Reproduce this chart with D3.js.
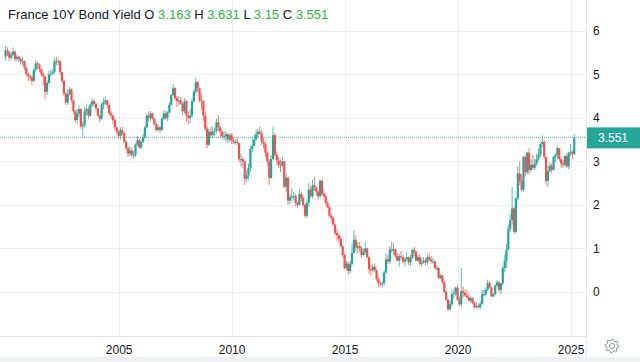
<!DOCTYPE html>
<html lang="en">
<head>
    <meta charset="UTF-8">
    <title>France 10Y Bond Yield</title>
    <script src="https://cdn.jsdelivr.net/npm/d3@7/dist/d3.min.js"></script>
    <style>
        body { margin: 0; background: #fff; }
        text { font-family: "Liberation Sans", Arial, sans-serif; }
    </style>
</head>
<body>
<svg id="main" width="640" height="362"></svg>
<script>
    // monthly candles, Jan 2000 .. Mar 2025 (open = previous month's close)
    const firstMonth = new Date(2000, 0, 1);
    const firstOpen = 5.40;

    const closes = [
        5.55, 5.50, 5.38, 5.45, 5.52, 5.35, 5.40, 5.35, 5.30, 5.30, 5.15, 5.00,
        4.95, 4.92, 4.85, 5.10, 5.25, 5.22, 5.12, 5.00, 4.95, 4.60, 4.80, 5.00,
        5.02, 5.05, 5.30, 5.28, 5.30, 5.05, 4.85, 4.55, 4.35, 4.55, 4.65, 4.40,
        4.15, 3.95, 4.10, 4.20, 3.80, 3.82, 4.15, 4.20, 4.05, 4.30, 4.38, 4.32,
        4.22, 4.05, 3.98, 4.30, 4.35, 4.40, 4.30, 4.10, 4.05, 3.95, 3.78, 3.68,
        3.58, 3.72, 3.65, 3.45, 3.30, 3.18, 3.25, 3.15, 3.15, 3.38, 3.48, 3.32,
        3.45, 3.55, 3.78, 4.05, 4.00, 4.10, 3.98, 3.85, 3.72, 3.78, 3.72, 3.98,
        4.10, 4.00, 4.12, 4.30, 4.52, 4.68, 4.45, 4.38, 4.40, 4.32, 4.15, 4.38,
        4.05, 4.00, 4.05, 4.38, 4.60, 4.82, 4.68, 4.40, 4.38, 4.05, 3.75, 3.38,
        3.68, 3.60, 3.68, 3.70, 3.90, 3.78, 3.68, 3.58, 3.58, 3.62, 3.50, 3.60,
        3.48, 3.45, 3.45, 3.42, 3.05, 3.05, 3.00, 2.60, 2.68, 2.85, 3.28, 3.35,
        3.50, 3.62, 3.68, 3.65, 3.45, 3.40, 3.20, 3.00, 2.62, 3.05, 3.60, 3.15,
        3.02, 2.92, 2.90, 3.00, 2.42, 2.62, 2.10, 2.18, 2.20, 2.20, 2.05, 2.00,
        2.25, 2.15, 2.00, 1.75, 2.05, 2.35, 2.20, 2.45, 2.40, 2.30, 2.20, 2.55,
        2.25, 2.20, 2.05, 1.95, 1.75, 1.70, 1.55, 1.35, 1.30, 1.22, 1.05, 0.85,
        0.55, 0.65, 0.48, 0.65, 0.90, 1.20, 1.02, 1.05, 1.00, 0.85, 0.92, 1.00,
        0.80, 0.52, 0.50, 0.58, 0.50, 0.30, 0.20, 0.18, 0.20, 0.45, 0.75, 0.70,
        0.98, 0.95, 0.98, 0.82, 0.72, 0.82, 0.80, 0.70, 0.75, 0.80, 0.68, 0.78,
        0.97, 0.92, 0.72, 0.80, 0.65, 0.68, 0.72, 0.68, 0.80, 0.75, 0.70, 0.70,
        0.55, 0.55, 0.32, 0.38, 0.22, 0.00, -0.18, -0.40, -0.28, -0.05, -0.03, 0.10,
        -0.18, -0.28, 0.02, -0.02, -0.08, -0.12, -0.20, -0.14, -0.25, -0.35, -0.32, -0.35,
        -0.28, -0.05, -0.05, 0.05, 0.20, 0.10, -0.10, -0.05, 0.15, 0.22, 0.05, 0.20,
        0.55, 0.72, 0.98, 1.45, 1.65, 1.92, 1.38, 2.15, 2.72, 2.55, 2.35, 3.10,
        2.75, 3.20, 2.80, 2.92, 2.85, 2.95, 3.05, 3.15, 3.40, 3.45, 3.10, 2.55,
        2.78, 2.90, 2.80, 3.10, 3.15, 3.30, 3.05, 2.95, 2.92, 3.12, 2.88, 3.20,
        3.22, 3.163, 3.551
    ];

    const highs = [
        5.65, 5.62, 5.55, 5.52, 5.62, 5.55, 5.45, 5.42, 5.40, 5.38, 5.32, 5.18,
        5.05, 5.00, 4.98, 5.15, 5.32, 5.30, 5.25, 5.12, 5.05, 4.95, 4.85, 5.08,
        5.10, 5.12, 5.38, 5.40, 5.35, 5.32, 5.05, 4.88, 4.60, 4.65, 4.72, 4.68,
        4.42, 4.18, 4.20, 4.28, 4.22, 3.92, 4.25, 4.30, 4.25, 4.35, 4.45, 4.42,
        4.35, 4.22, 4.08, 4.35, 4.45, 4.48, 4.42, 4.30, 4.15, 4.08, 3.98, 3.80,
        3.72, 3.78, 3.80, 3.68, 3.48, 3.35, 3.35, 3.32, 3.25, 3.42, 3.58, 3.52,
        3.50, 3.62, 3.82, 4.10, 4.15, 4.15, 4.12, 4.00, 3.88, 3.85, 3.82, 4.02,
        4.18, 4.15, 4.15, 4.35, 4.55, 4.78, 4.70, 4.50, 4.50, 4.48, 4.35, 4.45,
        4.42, 4.15, 4.20, 4.45, 4.65, 4.92, 4.85, 4.70, 4.55, 4.40, 4.15, 3.82,
        3.75, 3.80, 3.80, 3.78, 3.98, 4.06, 3.80, 3.72, 3.68, 3.70, 3.65, 3.65,
        3.65, 3.55, 3.52, 3.55, 3.42, 3.18, 3.10, 3.00, 2.80, 2.95, 3.35, 3.55,
        3.62, 3.72, 3.75, 3.80, 3.72, 3.55, 3.45, 3.25, 3.05, 3.15, 3.80, 3.65,
        3.22, 3.10, 3.05, 3.10, 3.00, 2.70, 2.65, 2.25, 2.38, 2.30, 2.25, 2.08,
        2.35, 2.30, 2.22, 2.02, 2.12, 2.50, 2.42, 2.58, 2.64, 2.42, 2.35, 2.58,
        2.60, 2.35, 2.28, 2.08, 1.98, 1.80, 1.72, 1.55, 1.42, 1.35, 1.28, 1.08,
        0.88, 0.72, 0.70, 0.72, 1.10, 1.42, 1.30, 1.15, 1.15, 1.05, 1.00, 1.15,
        1.02, 0.82, 0.62, 0.65, 0.65, 0.52, 0.35, 0.25, 0.25, 0.50, 0.90, 0.85,
        1.05, 1.15, 1.12, 1.00, 0.90, 0.88, 0.95, 0.85, 0.80, 0.92, 0.82, 0.85,
        1.00, 1.03, 0.95, 0.85, 0.88, 0.78, 0.80, 0.78, 0.85, 0.90, 0.82, 0.78,
        0.72, 0.62, 0.58, 0.42, 0.40, 0.25, 0.05, -0.15, -0.20, 0.05, 0.05, 0.12,
        0.15, -0.10, 0.55, 0.12, 0.05, 0.05, -0.05, -0.10, -0.12, -0.22, -0.22, -0.25,
        -0.20, 0.05, 0.05, 0.10, 0.28, 0.25, 0.12, -0.02, 0.18, 0.28, 0.25, 0.20,
        0.60, 0.85, 1.10, 1.55, 1.80, 2.42, 1.95, 2.18, 2.90, 3.00, 2.70, 3.12,
        3.15, 3.22, 3.30, 3.05, 3.15, 3.05, 3.18, 3.30, 3.42, 3.60, 3.48, 3.10,
        2.90, 2.98, 2.95, 3.12, 3.18, 3.35, 3.28, 3.10, 3.02, 3.15, 3.18, 3.22,
        3.40, 3.25, 3.631
    ];

    const lows = [
        5.32, 5.42, 5.30, 5.33, 5.42, 5.30, 5.30, 5.28, 5.22, 5.20, 5.10, 4.95,
        4.85, 4.85, 4.75, 4.82, 5.05, 5.12, 5.05, 4.95, 4.75, 4.42, 4.52, 4.78,
        4.92, 4.98, 5.02, 5.20, 5.20, 4.98, 4.78, 4.50, 4.30, 4.30, 4.52, 4.35,
        4.10, 3.90, 3.85, 4.02, 3.75, 3.55, 3.78, 4.05, 3.98, 4.02, 4.25, 4.25,
        4.15, 4.02, 3.90, 3.95, 4.20, 4.30, 4.22, 4.05, 3.98, 3.85, 3.72, 3.62,
        3.52, 3.50, 3.60, 3.42, 3.25, 3.10, 3.12, 3.10, 3.05, 3.10, 3.35, 3.28,
        3.28, 3.42, 3.52, 3.75, 3.92, 3.92, 3.95, 3.82, 3.68, 3.68, 3.65, 3.70,
        3.95, 3.95, 3.92, 4.10, 4.28, 4.50, 4.40, 4.25, 4.28, 4.30, 4.05, 4.10,
        3.90, 3.85, 3.88, 4.00, 4.35, 4.55, 4.58, 4.35, 4.18, 3.92, 3.70, 3.30,
        3.35, 3.55, 3.52, 3.58, 3.65, 3.70, 3.55, 3.50, 3.48, 3.45, 3.42, 3.45,
        3.40, 3.40, 3.38, 3.38, 2.98, 2.88, 2.85, 2.46, 2.52, 2.58, 2.75, 3.20,
        3.35, 3.48, 3.55, 3.60, 3.38, 3.30, 3.10, 2.90, 2.46, 2.60, 3.02, 3.10,
        2.90, 2.85, 2.75, 2.88, 2.38, 2.30, 2.00, 2.02, 2.08, 2.12, 1.98, 1.92,
        1.98, 2.08, 1.95, 1.70, 1.70, 1.95, 2.15, 2.15, 2.32, 2.20, 2.12, 2.15,
        2.20, 2.15, 2.00, 1.92, 1.72, 1.62, 1.52, 1.30, 1.18, 1.12, 1.02, 0.80,
        0.52, 0.50, 0.39, 0.42, 0.60, 0.90, 0.95, 0.90, 0.92, 0.78, 0.82, 0.85,
        0.78, 0.42, 0.38, 0.45, 0.45, 0.25, 0.11, 0.12, 0.12, 0.15, 0.42, 0.65,
        0.65, 0.90, 0.85, 0.78, 0.70, 0.58, 0.75, 0.65, 0.60, 0.72, 0.62, 0.60,
        0.75, 0.82, 0.70, 0.70, 0.60, 0.58, 0.65, 0.60, 0.62, 0.70, 0.65, 0.65,
        0.50, 0.48, 0.30, 0.30, 0.18, -0.02, -0.20, -0.44, -0.42, -0.32, -0.15, -0.10,
        -0.20, -0.32, -0.35, -0.12, -0.12, -0.15, -0.22, -0.25, -0.28, -0.38, -0.38, -0.38,
        -0.40, -0.30, -0.10, -0.10, 0.02, 0.08, -0.12, -0.12, -0.08, 0.12, 0.00, -0.05,
        0.15, 0.45, 0.55, 0.95, 1.38, 1.55, 1.32, 1.35, 2.10, 2.45, 2.30, 2.30,
        2.65, 2.70, 2.70, 2.75, 2.80, 2.80, 2.90, 3.00, 3.10, 3.32, 3.05, 2.45,
        2.41, 2.75, 2.72, 2.80, 2.98, 3.05, 3.00, 2.85, 2.85, 2.88, 2.85, 2.82,
        3.12, 3.05, 3.15
    ];

    const yTicks = [0, 1, 2, 3, 4, 5, 6];
    const title = 'France 10Y Bond Yield';
    const legend = [['O', '3.163'], ['H', '3.631'], ['L', '3.15'], ['C', '3.551']];
    const lastValue = 3.551;

    const upColor = '#26a69a';
    const downColor = '#ef5350';
    const gridColor = '#ebeef3';
    const plotRight = 586;
    const plotBottom = 336;

    let data = closes.map(function (c, i) {
        return {
            date: new Date(firstMonth.getFullYear(), firstMonth.getMonth() + i, 1),
            open: i === 0 ? firstOpen : closes[i - 1],
            high: highs[i],
            low: lows[i],
            close: c
        };
    });

    let svg = d3.select('svg#main');

    let x = d3.scaleTime()
        .domain([new Date(2000, 0, 1), new Date(2025, 0, 1)])
        .range([5.6, 570.6]);
    let y = d3.scaleLinear()
        .domain([0, 6])
        .range([292, 30.7]);

    // background grid
    let years = x.ticks(d3.timeYear.every(5)).filter(d => d.getFullYear() > 2000);
    svg.append('g').selectAll('line').data(years).enter().append('line')
        .attr('x1', d => Math.round(x(d)) + 0.5).attr('x2', d => Math.round(x(d)) + 0.5)
        .attr('y1', 0).attr('y2', plotBottom)
        .attr('stroke', gridColor).attr('stroke-width', 1);
    svg.append('g').selectAll('line').data(yTicks).enter().append('line')
        .attr('x1', 0).attr('x2', plotRight)
        .attr('y1', d => Math.round(y(d)) + 0.5).attr('y2', d => Math.round(y(d)) + 0.5)
        .attr('stroke', gridColor).attr('stroke-width', 1);

    // borders of the plot / scales
    svg.append('line')
        .attr('x1', 0).attr('x2', plotRight).attr('y1', plotBottom + 0.5).attr('y2', plotBottom + 0.5)
        .attr('stroke', '#e0e3eb');
    svg.append('line')
        .attr('x1', plotRight + 0.5).attr('x2', plotRight + 0.5).attr('y1', 0).attr('y2', 357)
        .attr('stroke', '#e0e3eb');
    svg.append('rect')
        .attr('x', 0).attr('y', 357).attr('width', 640).attr('height', 5)
        .attr('fill', '#eef0f3');

    // last value line
    svg.append('line')
        .attr('x1', 0).attr('x2', plotRight)
        .attr('y1', y(lastValue)).attr('y2', y(lastValue))
        .attr('stroke', upColor).attr('stroke-opacity', 0.85)
        .attr('stroke-dasharray', '1,1');

    // candles
    let bodyW = 2.2;
    let candles = svg.append('g').selectAll('g').data(data).enter().append('g')
        .attr('fill', d => d.close >= d.open ? upColor : downColor)
        .attr('stroke', d => d.close >= d.open ? upColor : downColor);
    candles.append('line')
        .attr('x1', d => x(d.date)).attr('x2', d => x(d.date))
        .attr('y1', d => y(Math.max(d.high, d.open, d.close)))
        .attr('y2', d => y(Math.min(d.low, d.open, d.close)))
        .attr('stroke-width', 1)
        .attr('stroke-opacity', 0.75);
    candles.append('rect')
        .attr('stroke', 'none')
        .attr('x', d => x(d.date) - bodyW / 2)
        .attr('width', bodyW)
        .attr('y', d => y(Math.max(d.open, d.close)))
        .attr('height', d => Math.max(1, Math.abs(y(d.open) - y(d.close))));

    // price scale
    let yAxis = svg.append('g')
        .attr('transform', 'translate(' + plotRight + ',0)')
        .call(d3.axisRight(y).tickValues(yTicks).tickSize(0).tickPadding(7).tickFormat(d3.format('d')));
    yAxis.select('.domain').remove();
    yAxis.selectAll('text').attr('font-size', 12).attr('fill', '#131722')
        .attr('font-family', '"Liberation Sans", Arial, sans-serif');

    // time scale
    let xAxis = svg.append('g')
        .attr('transform', 'translate(0,' + plotBottom + ')')
        .call(d3.axisBottom(x).tickValues(years).tickSize(0).tickPadding(9).tickFormat(d3.timeFormat('%Y')));
    xAxis.select('.domain').remove();
    xAxis.selectAll('text').attr('font-size', 12).attr('fill', '#131722')
        .attr('font-family', '"Liberation Sans", Arial, sans-serif');

    // last value label
    svg.append('rect')
        .attr('x', plotRight + 1).attr('y', y(lastValue) - 10)
        .attr('width', 640 - plotRight - 1).attr('height', 21)
        .attr('fill', upColor);
    svg.append('text')
        .attr('x', 613).attr('y', y(lastValue) + 4.5)
        .attr('text-anchor', 'middle')
        .attr('font-size', 12).attr('fill', '#fff')
        .text(d3.format('.3f')(lastValue));

    // settings gear
    let gear = [];
    for (let k = 0; k < 32; k++) {
        let a = k / 32 * Math.PI * 2;
        let r = (Math.floor(k / 2) % 2 === 0) ? 7 : 5.2;
        gear.push([612 + r * Math.cos(a), 346 + r * Math.sin(a)]);
    }
    svg.append('path')
        .attr('d', d3.line()(gear) + 'Z')
        .attr('fill', 'none').attr('stroke', '#9598a1').attr('stroke-width', 1);
    svg.append('circle')
        .attr('cx', 612).attr('cy', 346).attr('r', 2.5)
        .attr('fill', 'none').attr('stroke', '#9598a1').attr('stroke-width', 1);

    // legend
    let head = svg.append('text').attr('x', 8).attr('y', 19).attr('font-size', 13);
    head.append('tspan').attr('fill', '#131722').text(title);
    legend.forEach(function (p) {
        head.append('tspan').attr('fill', '#131722').text(' ' + p[0] + ' ');
        head.append('tspan').attr('fill', '#2fb344').text(p[1]);
    });
</script>
</body>
</html>
